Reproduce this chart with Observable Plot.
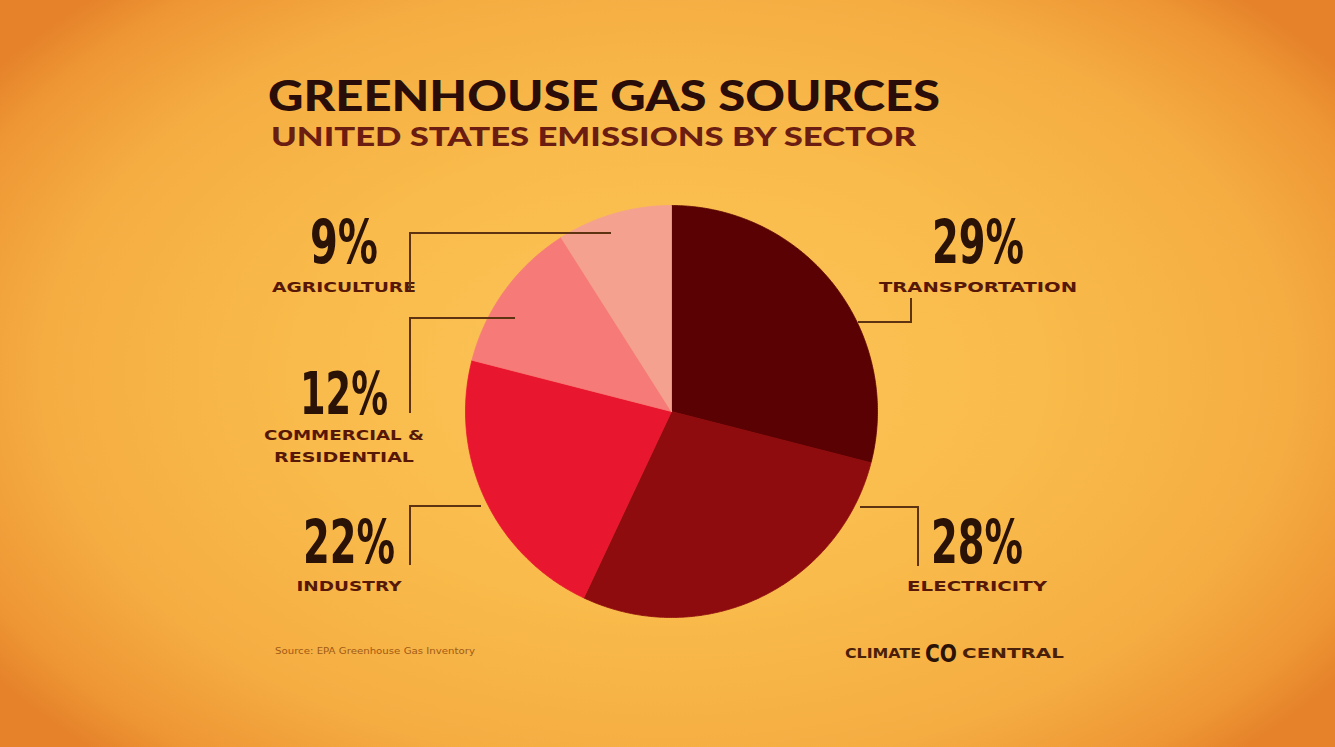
<!DOCTYPE html>
<html>
<head>
<meta charset="utf-8">
<script src="https://cdn.jsdelivr.net/npm/d3@7"></script>
<script src="https://cdn.jsdelivr.net/npm/@observablehq/plot@0.6"></script>
<style>
  html, body { margin: 0; padding: 0; }
  #wrap {
    position: relative; width: 1335px; height: 747px; overflow: hidden;
    background: radial-gradient(ellipse 62% 70% at 50% 50%, #fcc558 0%, #f9bb4b 45%, #f5ad42 75%, #ee9634 92%, #e5822a 100%);
  }
  #chart { position: absolute; left: 0; top: 0; }
  #txt { position: absolute; left: 0; top: 0; }
  .ld { position: absolute; border-color: #5e3312; border-style: solid; border-width: 0; box-sizing: border-box; }
</style>
</head>
<body>
<div id="wrap">
  <div id="chart"></div>
  <svg id="txt" width="1335" height="747"></svg>
</div>
<script>
// ---- data ----
const sectors = ["Transportation", "Electricity", "Industry", "Commercial & Residential", "Agriculture"];
const shares = [29, 28, 22, 12, 9];
const sectorLabels = [["TRANSPORTATION"], ["ELECTRICITY"], ["INDUSTRY"], ["COMMERCIAL &", "RESIDENTIAL"], ["AGRICULTURE"]];
const sectorColors = ["#5a0104", "#8e0b0e", "#e8162e", "#f67b78", "#f5a18f"];
const titleText = "GREENHOUSE GAS SOURCES";
const subtitleText = "UNITED STATES EMISSIONS BY SECTOR";
const sourceText = "Source: EPA Greenhouse Gas Inventory";

// ---- layout (pixels) ----
const W = 1335, H = 747, CX = 671, CY = 411, R = 206;
const labelLayout = [
  {cx: 978, pctBase: 263, pctSize: 60, pctW: 92, names: [{base: 292, w: 198}]},
  {cx: 977, pctBase: 563, pctSize: 60, pctW: 92, names: [{base: 591, w: 140}]},
  {cx: 349, pctBase: 563, pctSize: 60, pctW: 92, names: [{base: 591, w: 105}]},
  {cx: 344, pctBase: 414, pctSize: 58, pctW: 88, names: [{base: 440, w: 160}, {base: 462, w: 140}]},
  {cx: 344, pctBase: 263, pctSize: 60, pctW: 68, names: [{base: 292, w: 144}]}
];
const leaders = [
  {left: 858, top: 298, w: 54, h: 25, sides: ["bottom", "right"]},
  {left: 860, top: 506, w: 59, h: 60, sides: ["top", "right"]},
  {left: 409, top: 505, w: 72, h: 60, sides: ["top", "left"]},
  {left: 409, top: 317, w: 106, h: 96, sides: ["top", "left"]},
  {left: 409, top: 232, w: 202, h: 58, sides: ["top", "left"]}
];

// ---- pie polygons from d3.pie angles ----
const arcs = d3.pie().sort(null).value(d => d)(shares);
const poly = [];
arcs.forEach((a, i) => {
  const n = Math.max(4, Math.ceil((a.endAngle - a.startAngle) / (Math.PI / 360)));
  poly.push({sector: sectors[i], x: 0, y: 0});
  for (let k = 0; k <= n; k++) {
    const t = a.startAngle + (a.endAngle - a.startAngle) * k / n;
    poly.push({sector: sectors[i], x: Math.sin(t), y: Math.cos(t)});
  }
  poly.push({sector: sectors[i], x: 0, y: 0});
});

const chart = Plot.plot({
  width: W, height: H,
  margin: 0,
  style: {background: "transparent", overflow: "visible"},
  x: {domain: [-CX / R, (W - CX) / R], axis: null},
  y: {domain: [-(H - CY) / R, CY / R], axis: null},
  color: {type: "ordinal", domain: sectors, range: sectorColors},
  marks: [
    Plot.line(poly, {x: "x", y: "y", z: "sector", fill: "sector", stroke: "sector", strokeWidth: 0.8, curve: "linear"})
  ]
});
document.getElementById("chart").appendChild(chart);

// ---- text overlay ----
const svg = d3.select("#txt");
function txt(s, x, y, o) {
  const t = svg.append("text").attr("x", x).attr("y", y).text(s)
    .attr("font-family", o.family).attr("font-weight", o.weight).attr("font-size", o.size)
    .attr("fill", o.fill).attr("text-anchor", o.anchor || "start");
  if (o.len) t.attr("textLength", o.len).attr("lengthAdjust", "spacingAndGlyphs");
  return t;
}
txt(titleText, 268, 111, {family: "Lato", weight: 900, size: 42, fill: "#2a0d08", len: 672});
txt(subtitleText, 271, 146, {family: "Lato", weight: 900, size: 26, fill: "#6a1d10", len: 645});

labelLayout.forEach((L, i) => {
  txt(shares[i] + "%", L.cx, L.pctBase, {family: "Liberation Sans Narrow, DejaVu Sans Condensed, sans-serif", weight: 700, size: L.pctSize, fill: "#2b1207", anchor: "middle", len: L.pctW});
  sectorLabels[i].forEach((s, j) => {
    const nm = L.names[j];
    txt(s, L.cx, nm.base, {family: "DejaVu Sans", weight: 700, size: 14, fill: "#561707", anchor: "middle", len: nm.w});
  });
});

txt(sourceText, 275, 654, {family: "DejaVu Sans", weight: 400, size: 9, fill: "#a15a14", len: 200});
txt("CLIMATE", 845, 658, {family: "DejaVu Sans", weight: 700, size: 14, fill: "#4a2008", len: 76});
txt("CENTRAL", 962, 658, {family: "DejaVu Sans", weight: 700, size: 14, fill: "#4a2008", len: 102});
svg.append("text").attr("x", 941).attr("y", 662).attr("text-anchor", "middle").text("CO")
  .attr("font-family", "DejaVu Sans").attr("font-weight", 700).attr("font-size", 24).attr("fill", "#2a1206")
  .attr("textLength", 32).attr("lengthAdjust", "spacingAndGlyphs");

// ---- leader lines ----
const wrap = document.getElementById("wrap");
leaders.forEach(l => {
  const d = document.createElement("div");
  d.className = "ld";
  d.style.left = l.left + "px"; d.style.top = l.top + "px";
  d.style.width = l.w + "px"; d.style.height = l.h + "px";
  l.sides.forEach(s => d.style["border" + s[0].toUpperCase() + s.slice(1) + "Width"] = "2px");
  wrap.appendChild(d);
});
</script>
</body>
</html>
